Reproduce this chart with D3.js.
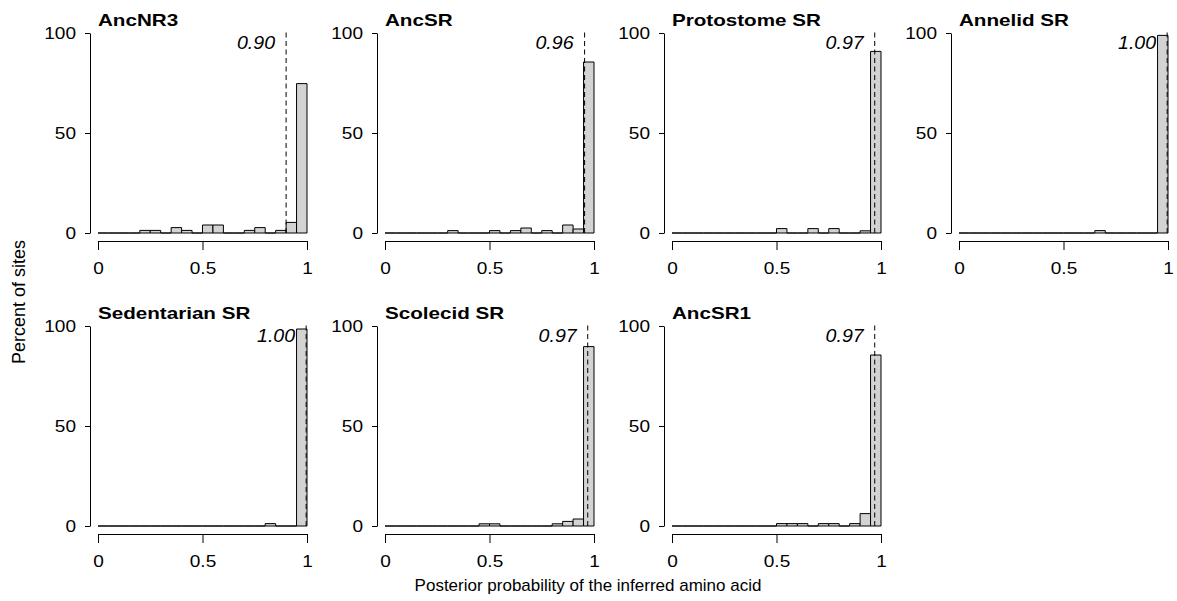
<!DOCTYPE html>
<html>
<head>
<meta charset="utf-8">
<script src="https://cdn.jsdelivr.net/npm/d3@7"></script>
<style>
  body { margin: 0; background: #fff; }
  text { font-family: "Liberation Sans", Arial, Helvetica, sans-serif; fill: #000; }
</style>
</head>
<body>
<div id="chart"></div>
<script>
// panel titles, in reading order
var panelNames = ["AncNR3", "AncSR", "Protostome SR", "Annelid SR",
                  "Sedentarian SR", "Scolecid SR", "AncSR1"];

// left edge of each histogram bin (bin width 0.05)
var binStarts = [0, 0.05, 0.10, 0.15, 0.20, 0.25, 0.30, 0.35, 0.40, 0.45,
                 0.50, 0.55, 0.60, 0.65, 0.70, 0.75, 0.80, 0.85, 0.90, 0.95];
var binWidth = 0.05;

// percent of sites in each bin
var ancNR3      = [0, 0, 0, 0, 1.3, 1.3, 0, 2.7, 1.3, 0, 4, 4, 0, 0, 1.3, 2.7, 0, 1.3, 5.3, 74.7];
var ancSR       = [0, 0, 0, 0, 0, 0, 1.2, 0, 0, 0, 1.2, 0, 1.2, 2.5, 0, 1.2, 0, 4, 2, 85.5];
var protostome  = [0, 0, 0, 0, 0, 0, 0, 0, 0, 0, 2.2, 0, 0, 2.2, 0, 2.2, 0, 0, 1.1, 90.8];
var annelid     = [0, 0, 0, 0, 0, 0, 0, 0, 0, 0, 0, 0, 0, 1.2, 0, 0, 0, 0, 0, 98.8];
var sedentarian = [0, 0, 0, 0, 0, 0, 0, 0, 0, 0, 0, 0, 0, 0, 0, 0, 1.2, 0, 0, 98.5];
var scolecid    = [0, 0, 0, 0, 0, 0, 0, 0, 0, 1.1, 1.1, 0, 0, 0, 0, 0, 1.1, 2.3, 3.5, 89.7];
var ancSR1      = [0, 0, 0, 0, 0, 0, 0, 0, 0, 0, 1.2, 1.2, 1.2, 0, 1.2, 1.2, 0, 1.2, 6.2, 85.5];
var panelValues = [ancNR3, ancSR, protostome, annelid, sedentarian, scolecid, ancSR1];

// mean posterior probability per panel (dashed line) and its printed label
var panelMeans  = [0.90, 0.955, 0.97, 0.996, 0.996, 0.97, 0.97];
var meanLabels  = ["0.90", "0.96", "0.97", "1.00", "1.00", "0.97", "0.97"];

var xTicks = [0, 0.5, 1];
var yTicks = [0, 50, 100];

var svgWidth = 1177, svgHeight = 601;
var panelW = 209, panelH = 200;   // pixel length of x 0..1 and y 0..100
var colStep = 287, rowStep = 293;
var firstX = 98, firstBase = 233;

// the original type is set wide, so text gets a horizontal stretch about its anchor
function widen(sel, sx) {
    sel.each(function() {
        var t = d3.select(this);
        var x = +t.attr("x") || 0, y = +t.attr("y") || 0;
        t.attr("transform", `translate(${x},${y}) scale(${sx},1) translate(${-x},${-y})`);
    });
}

var svg = d3.select("#chart").append("svg")
    .attr("width", svgWidth)
    .attr("height", svgHeight);

panelNames.forEach(function(name, i) {
    var col = i % 4, row = Math.floor(i / 4);
    var x0 = firstX + col * colStep;
    var base = firstBase + row * rowStep;

    var xScale = d3.scaleLinear().domain([0, 1]).range([x0, x0 + panelW]);
    var yScale = d3.scaleLinear().domain([0, 100]).range([base, base - panelH]);

    var g = svg.append("g");

    // axes sit on the edges of the (4% padded) plot region
    var leftAxis = d3.axisLeft(yScale).tickValues(yTicks)
        .tickSize(5).tickSizeOuter(0).tickPadding(9);
    var bottomAxis = d3.axisBottom(xScale).tickValues(xTicks)
        .tickFormat(d3.format("~g")).tickSize(9).tickSizeOuter(0).tickPadding(12);

    var ya = g.append("g")
        .attr("transform", `translate(${Math.round(xScale(-0.04))}, 0)`)
        .call(leftAxis);
    var xa = g.append("g")
        .attr("transform", `translate(0, ${Math.round(yScale(-4))})`)
        .call(bottomAxis);
    g.selectAll(".domain, .tick line").attr("stroke", "#000");
    g.selectAll(".tick text").attr("font-size", 17)
        .attr("font-family", "'Liberation Sans', Arial, Helvetica, sans-serif");
    widen(ya.selectAll(".tick text"), 1.12);
    widen(xa.selectAll(".tick text"), 1.12);

    // histogram bars (zero-height bins still draw as a flat outline)
    var bins = binStarts.map(function(b, j) { return { x: b, v: panelValues[i][j] }; });
    g.selectAll("path.bar")
        .data(bins)
        .enter()
        .append("path")
        .attr("class", "bar")
        .attr("d", function(d) {
            var l = xScale(d.x), r = xScale(d.x + binWidth);
            var t = yScale(d.v), b = yScale(0);
            return `M${l},${b}V${t}H${r}V${b}Z`;
        })
        .attr("fill", "#d3d3d3")
        .attr("stroke", "#000")
        .attr("stroke-width", 1);

    // mean line and label
    var mx = xScale(panelMeans[i]);
    g.append("line")
        .attr("x1", mx).attr("x2", mx)
        .attr("y1", yScale(0)).attr("y2", yScale(101))
        .attr("stroke", "#000")
        .attr("stroke-width", 1)
        .attr("stroke-dasharray", "5,3.5");
    g.append("text")
        .attr("x", mx - 11)
        .attr("y", yScale(95))
        .attr("dy", "0.35em")
        .attr("text-anchor", "end")
        .attr("font-style", "italic")
        .attr("font-size", 17.5)
        .text(meanLabels[i])
        .call(widen, 1.12);

    // panel title
    g.append("text")
        .attr("x", x0)
        .attr("y", yScale(100) - 7)
        .attr("font-weight", "bold")
        .attr("font-size", 16.5)
        .text(name)
        .call(widen, 1.25);
});

// shared axis labels
svg.append("text")
    .attr("transform", "translate(25, 302) rotate(-90)")
    .attr("text-anchor", "middle")
    .attr("font-size", 18)
    .text("Percent of sites");

svg.append("text")
    .attr("x", 588)
    .attr("y", 591)
    .attr("text-anchor", "middle")
    .attr("font-size", 17)
    .text("Posterior probability of the inferred amino acid");
</script>
</body>
</html>
